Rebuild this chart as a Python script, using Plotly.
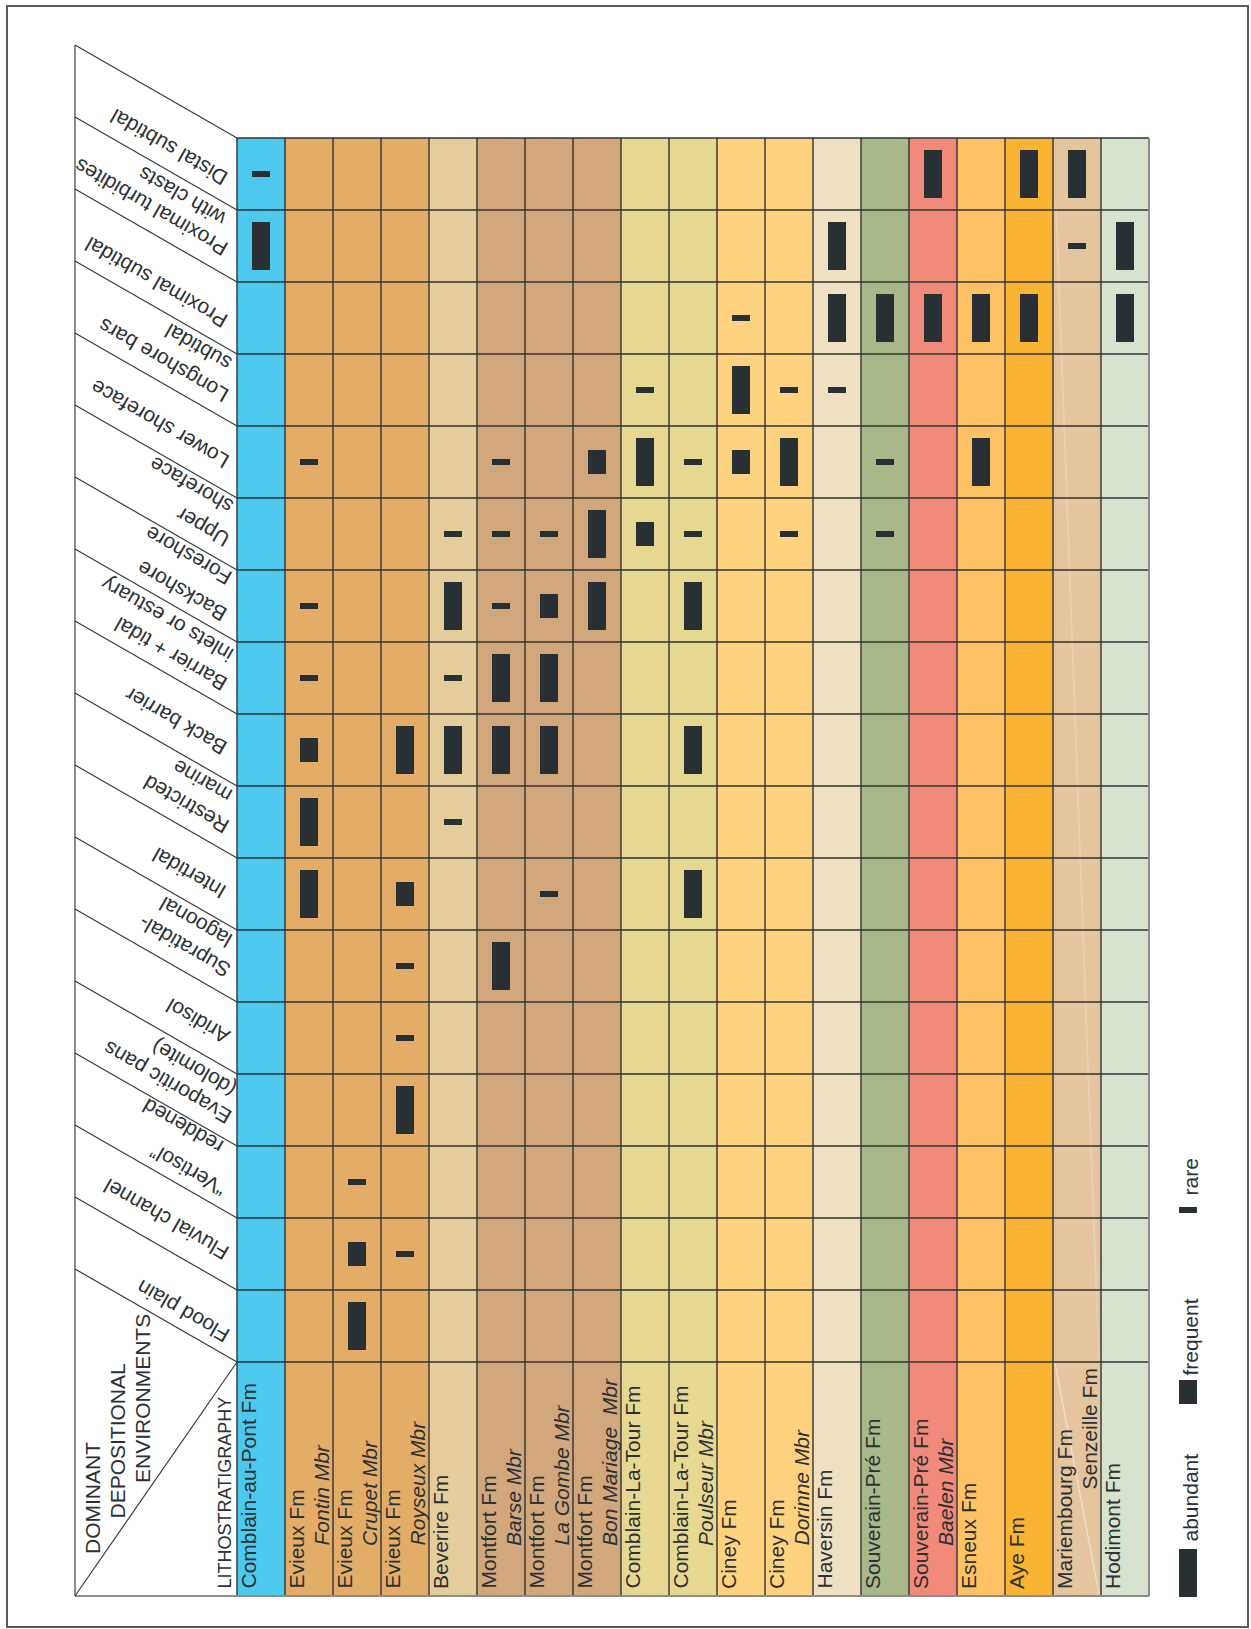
import plotly.graph_objects as go

# ---------------- data ----------------
environments = [
    ["Distal subtidal"],
    ["Proximal turbidites", "with clasts"],
    ["Proximal subtidal"],
    ["Longshore bars", "subtidal"],
    ["Lower shoreface"],
    ["Upper", "shoreface"],
    ["Backshore", "Foreshore"],
    ["Barrier + tidal", "inlets or estuary"],
    ["Back barrier"],
    ["Restricted", "marine"],
    ["Intertidal"],
    ["Supratidal-", "lagoonal"],
    ["Aridisol"],
    ["Evaporitic pans", "(dolomite)"],
    ["\u201cVertisol\u201d", "reddened"],
    ["Fluvial channel"],
    ["Flood plain"],
]

formations = ["Comblain-au-Pont Fm", "Evieux Fm", "Evieux Fm", "Evieux Fm", "Beverire Fm",
              "Montfort Fm", "Montfort Fm", "Montfort Fm", "Comblain-La-Tour Fm",
              "Comblain-La-Tour Fm", "Ciney Fm", "Ciney Fm", "Haversin Fm",
              "Souverain-Pré Fm", "Souverain-Pré Fm", "Esneux Fm", "Aye Fm",
              "Mariembourg Fm", "Hodimont Fm"]
members = ["", "Fontin Mbr", "Crupet Mbr", "Royseux Mbr", "", "Barse Mbr", "La Gombe Mbr",
           "Bon Mariage\u00a0 Mbr", "", "Poulseur Mbr", "", "Dorinne Mbr", "", "",
           "Baelen Mbr", "", "", "Senzeille Fm", ""]

unit_colors = ["#4DC8EE", "#E3AD67", "#E3AD67", "#E3AD67", "#E4CC9B", "#D1A77B", "#D1A77B",
               "#D1A77B", "#E7D891", "#E7D891", "#FED27F", "#FED27F", "#F0E0C2", "#A8B889",
               "#F28A7B", "#FEC265", "#FBB333", "#E4C59D", "#D7E2CF"]

# occurrence codes: 3 = abundant, 2 = frequent, 1 = rare (one list per environment, one value per unit)
distal_subtidal      = [1,0,0,0,0,0,0,0,0,0,0,0,0,0,3,0,3,3,0]
proximal_turbidites  = [3,0,0,0,0,0,0,0,0,0,0,0,3,0,0,0,0,1,3]
proximal_subtidal    = [0,0,0,0,0,0,0,0,0,0,1,0,3,3,3,3,3,0,3]
longshore_bars       = [0,0,0,0,0,0,0,0,1,0,3,1,1,0,0,0,0,0,0]
lower_shoreface      = [0,1,0,0,0,1,0,2,3,1,2,3,0,1,0,3,0,0,0]
upper_shoreface      = [0,0,0,0,1,1,1,3,2,1,0,1,0,1,0,0,0,0,0]
backshore_foreshore  = [0,1,0,0,3,1,2,3,0,3,0,0,0,0,0,0,0,0,0]
barrier_tidal_inlets = [0,1,0,0,1,3,3,0,0,0,0,0,0,0,0,0,0,0,0]
back_barrier         = [0,2,0,3,3,3,3,0,0,3,0,0,0,0,0,0,0,0,0]
restricted_marine    = [0,3,0,0,1,0,0,0,0,0,0,0,0,0,0,0,0,0,0]
intertidal           = [0,3,0,2,0,0,1,0,0,3,0,0,0,0,0,0,0,0,0]
supratidal_lagoonal  = [0,0,0,1,0,3,0,0,0,0,0,0,0,0,0,0,0,0,0]
aridisol             = [0,0,0,1,0,0,0,0,0,0,0,0,0,0,0,0,0,0,0]
evaporitic_pans      = [0,0,0,3,0,0,0,0,0,0,0,0,0,0,0,0,0,0,0]
vertisol_reddened    = [0,0,1,0,0,0,0,0,0,0,0,0,0,0,0,0,0,0,0]
fluvial_channel      = [0,0,2,1,0,0,0,0,0,0,0,0,0,0,0,0,0,0,0]
flood_plain          = [0,0,3,0,0,0,0,0,0,0,0,0,0,0,0,0,0,0,0]

occurrence = [distal_subtidal, proximal_turbidites, proximal_subtidal, longshore_bars,
              lower_shoreface, upper_shoreface, backshore_foreshore, barrier_tidal_inlets,
              back_barrier, restricted_marine, intertidal, supratidal_lagoonal, aridisol,
              evaporitic_pans, vertisol_reddened, fluvial_channel, flood_plain]

levels = {3: "abundant", 2: "frequent", 1: "rare"}
level_size = {3: 2 / 3, 2: 1 / 3, 1: 1 / 12}   # fraction of a row height

# ---------------- geometry (pixels) ----------------
W, H = 1251, 1629
GX0, CW = 237, 48      # grid left, column width
GY0, RH = 138, 72      # grid top, row height
BOTTOM = 1596
HX = 75                # header left
SLANT = 93             # diagonal drop


def X(px):
    return (px - GX0) / CW - 0.5


def Y(py):
    return (py - GY0) / RH - 0.5


n_units = len(formations)
n_env = len(environments)
INK = "#2B3134"
LINE = "#2E3336"
FONT = "Liberation Sans, Arial, sans-serif"

fig = go.Figure()

# bars
bar_color = "#283033"
for lev in (3, 2, 1):
    xs, bases, lens = [], [], []
    for j, row in enumerate(occurrence):
        for i, v in enumerate(row):
            if v == lev:
                xs.append(i)
                bases.append(j - level_size[lev] / 2)
                lens.append(level_size[lev])
    fig.add_trace(go.Bar(x=xs, y=lens, base=bases, width=18 / CW, name=levels[lev],
                         marker=dict(color=bar_color, line=dict(width=0)),
                         showlegend=False, hoverinfo="skip"))

shapes = []
# column backgrounds
for i, c in enumerate(unit_colors):
    shapes.append(dict(type="rect", xref="x", yref="y", x0=i - 0.5, x1=i + 0.5,
                       y0=-0.5, y1=Y(BOTTOM), fillcolor=c, line=dict(width=0), layer="below"))
# faint light line in Mariembourg column
shapes.append(dict(type="line", xref="x", yref="y", x0=X(1056), y0=Y(205), x1=X(1099), y1=Y(1362),
                   line=dict(color="rgba(255,255,255,0.18)", width=2), layer="below"))
shapes.append(dict(type="line", xref="x", yref="y", x0=X(1055), y0=Y(1363), x1=X(1099), y1=Y(1594),
                   line=dict(color="rgba(255,255,255,0.4)", width=1.5), layer="below"))
# horizontal grid lines
for j in range(n_env + 1):
    shapes.append(dict(type="line", xref="x", yref="y", x0=-0.5, x1=n_units - 0.5,
                       y0=j - 0.5, y1=j - 0.5, line=dict(color=LINE, width=1.4), layer="below"))
# vertical lines
for i in range(n_units + 1):
    col = "#8C8C8C" if i == n_units else LINE
    wd = 2 if i == n_units else 1.4
    shapes.append(dict(type="line", xref="x", yref="y", x0=i - 0.5, x1=i - 0.5,
                       y0=-0.5, y1=Y(BOTTOM), line=dict(color=col, width=wd), layer="below"))
# bottom edge
shapes.append(dict(type="line", xref="x", yref="y", x0=X(HX), x1=n_units - 0.5, y0=Y(BOTTOM), y1=Y(BOTTOM),
                   line=dict(color="#8C8C8C", width=2)))
# header vertical line
shapes.append(dict(type="line", xref="x", yref="y", x0=X(HX), x1=X(HX), y0=Y(GY0 - SLANT), y1=Y(BOTTOM),
                   line=dict(color="#8C8C8C", width=2)))
# header diagonals
for j in range(n_env + 1):
    shapes.append(dict(type="line", xref="x", yref="y", x0=X(HX), y0=j - 0.5 - SLANT / RH,
                       x1=-0.5, y1=j - 0.5, line=dict(color="#3A3A3A", width=1.2)))
shapes.append(dict(type="line", xref="x", yref="y", x0=X(HX), y0=Y(BOTTOM), x1=-0.5, y1=n_env - 0.5,
                   line=dict(color="#3A3A3A", width=1.2)))
# outer frame
shapes.append(dict(type="rect", xref="x", yref="y", x0=X(7), x1=X(1248), y0=Y(6), y1=Y(1627),
                   line=dict(color="#5A5A5A", width=2), fillcolor="rgba(0,0,0,0)"))
# legend keys
for lev, (y0, y1) in {3: (1549, 1597), 2: (1380, 1404), 1: (1207, 1213)}.items():
    shapes.append(dict(type="rect", xref="x", yref="y", x0=X(1179), x1=X(1197), y0=Y(y0), y1=Y(y1),
                       fillcolor=bar_color, line=dict(width=0)))

annotations = []


def ann(text, px, py, angle, size=21, xanchor="center", yanchor="middle", italic=False):
    annotations.append(dict(text=text, x=X(px), y=Y(py), xref="x", yref="y", showarrow=False,
                            textangle=angle, xanchor=xanchor, yanchor=yanchor, borderpad=0,
                            font=dict(family=FONT, size=size, color=INK,
                                      style="italic" if italic else "normal")))


# environment labels (upside-down, slanted)
env_centers = [
    [(169, 148)],
    [(151, 208), (182, 197)],
    [(156, 283)],
    [(163, 361), (198, 348)],
    [(160, 425)],
    [(203, 528), (191, 486)],
    [(182, 592), (188, 556)],
    [(171, 655), (167, 620)],
    [(176, 722)],
    [(186, 805), (202, 782)],
    [(189, 874)],
    [(184, 947), (196, 923)],
    [(198, 1022)],
    [(167, 1083), (194, 1069)],
    [(188, 1171), (183, 1127)],
    [(166, 1220)],
    [(183, 1312)],
]
for lines, centers in zip(environments, env_centers):
    for t, (px, py) in zip(lines, centers):
        ann(t, px, py, -150)

# lithostratigraphy labels
for i, (f, m) in enumerate(zip(formations, members)):
    left = GX0 + CW * i
    ann(f, left + 11, 1590, -90, yanchor="bottom")
    if m:
        start = 1491 if m.endswith("Fm") else 1547
        ann(m, left + 36, start, -90, yanchor="bottom", italic=m.endswith("Mbr"))

# header titles
ann("DOMINANT", 92.5, 1498.5, -90)
ann("DEPOSITIONAL", 117, 1441.5, -90)
ann("ENVIRONMENTS", 142, 1399, -90)
ann("LITHOSTRATIGRAPHY", 224.5, 1590, -90, size=18, yanchor="bottom")

# legend labels
ann("abundant", 1189.5, 1498, -90)
ann("frequent", 1189.5, 1337, -90)
ann("rare", 1189.5, 1177, -90)

fig.update_layout(
    width=W, height=H, margin=dict(l=0, r=0, t=0, b=0),
    paper_bgcolor="white", plot_bgcolor="white",
    barmode="overlay", showlegend=False,
    xaxis=dict(range=[X(0), X(W)], visible=False, fixedrange=True),
    yaxis=dict(range=[Y(H), Y(0)], visible=False, fixedrange=True),
    shapes=shapes, annotations=annotations,
)

fig.write_html("out.html", config={"displayModeBar": False},
               post_script="document.body.style.margin='0';")
